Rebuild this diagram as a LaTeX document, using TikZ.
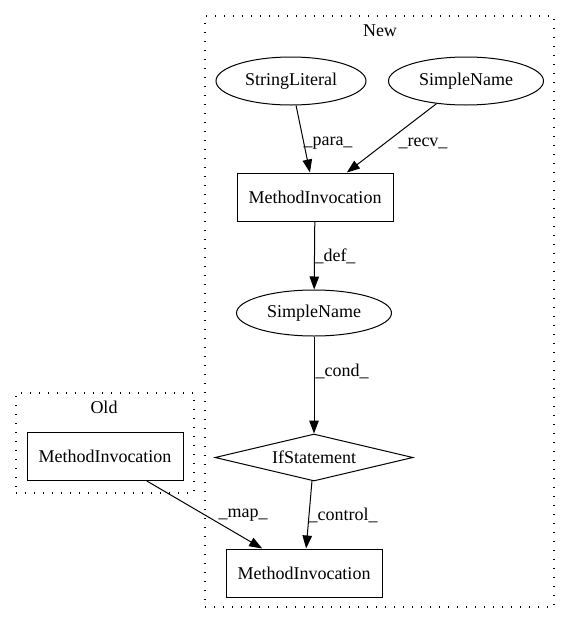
\documentclass[tikz,border=0pt]{standalone}
\usepackage{fontspec}
\setmainfont{Liberation Serif}
\usetikzlibrary{shapes.geometric,arrows.meta}
\begin{document}
\begin{tikzpicture}[x=1pt,y=-1pt,
  every node/.style={font=\fontsize{18}{21}\selectfont},
  cluster/.style={draw, line width=1.1pt, dash pattern=on 1.3pt off 7.7pt, inner sep=0pt},
  ell/.style={draw, ellipse, line width=1pt, inner sep=0pt, minimum width=153pt, minimum height=47pt},
  box/.style={draw, rectangle, line width=1pt, inner sep=0pt, minimum width=156pt, minimum height=48pt},
  dia/.style={draw, diamond, line width=1pt, inner sep=0pt, aspect=4.2, minimum width=198pt, minimum height=47pt},
  edge/.style={draw, line width=1pt, -{Triangle[length=13pt,width=9.5pt]}},
  elabel/.style={inner sep=0pt}
]
\useasboundingbox (0,0) rectangle (571,624);
% clusters
\node[cluster, minimum width=349pt, minimum height=591pt] (newc) at (379.5,311.5) {};
\node[cluster, minimum width=178pt, minimum height=100pt] (oldc) at (105,443) {};
\node (newlbl) at (380,31) {New};
\node (oldlbl) at (104,407) {Old};
% nodes
\node[ell, minimum width=150pt, minimum height=48pt] (sl) at (291,81) {StringLiteral};
\node[ell, minimum width=155pt, minimum height=48pt] (sn1) at (466,81) {SimpleName};
\node[box] (mi1) at (315,197) {MethodInvocation};
\node[ell, minimum width=155pt, minimum height=46pt] (sn2) at (314,313) {SimpleName};
\node[dia, label=center:{IfStatement}] (ifs) at (314,457.5) {};
\node[box] (mi2) at (304,573) {MethodInvocation};
\node[box] (mio) at (105,456.5) {MethodInvocation};
% edges
\draw[edge] (sl) -- (mi1);
\draw[edge] (sn1) -- (mi1);
\draw[edge] (mi1) -- (sn2);
\draw[edge] (sn2) -- (ifs);
\draw[edge] (ifs) -- (mi2);
\draw[edge] (mio) -- (mi2);
% edge labels
\node[elabel] (lpara) at (328,143) {\_para\_};
\node[elabel] (lrecv) at (423,143) {\_recv\_};
\node[elabel] (ldef) at (335,256) {\_def\_};
\node[elabel] (lcond) at (342,371) {\_cond\_};
\node[elabel] (lmap) at (243,515) {\_map\_};
\node[elabel] (lctrl) at (343,515) {\_control\_};
\end{tikzpicture}
\end{document}
